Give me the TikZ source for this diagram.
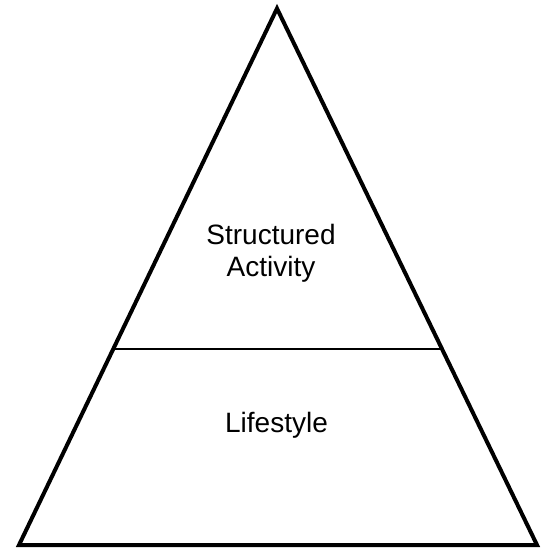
\documentclass[tikz,border=0pt]{standalone}
\usepackage{fontspec}
\setmainfont{Liberation Sans}
\begin{document}
\begin{tikzpicture}[x=1pt,y=-1pt,
  tri/.style={draw=black,line width=4pt,line join=miter},
  divider/.style={draw=black,line width=1.3pt},
  lbl/.style={font=\fontsize{28}{31.7}\selectfont,align=center,inner sep=0pt,text=black}]
\useasboundingbox (0,0) rectangle (549,551);
\coordinate (apex) at (277,8.5);
\coordinate (bl) at (19,545);
\coordinate (br) at (537,545);
\draw[tri] (apex) -- (bl) -- (br) -- cycle;
\coordinate (dl) at (114,349);
\coordinate (dr) at (440,349);
\draw[divider] (dl) -- (dr);
\node[lbl,anchor=north] (top) at (271,224.5) {Structured\\Activity};
\node[lbl,anchor=base] (bottom) at (276.5,432) {Lifestyle};
\end{tikzpicture}
\end{document}
